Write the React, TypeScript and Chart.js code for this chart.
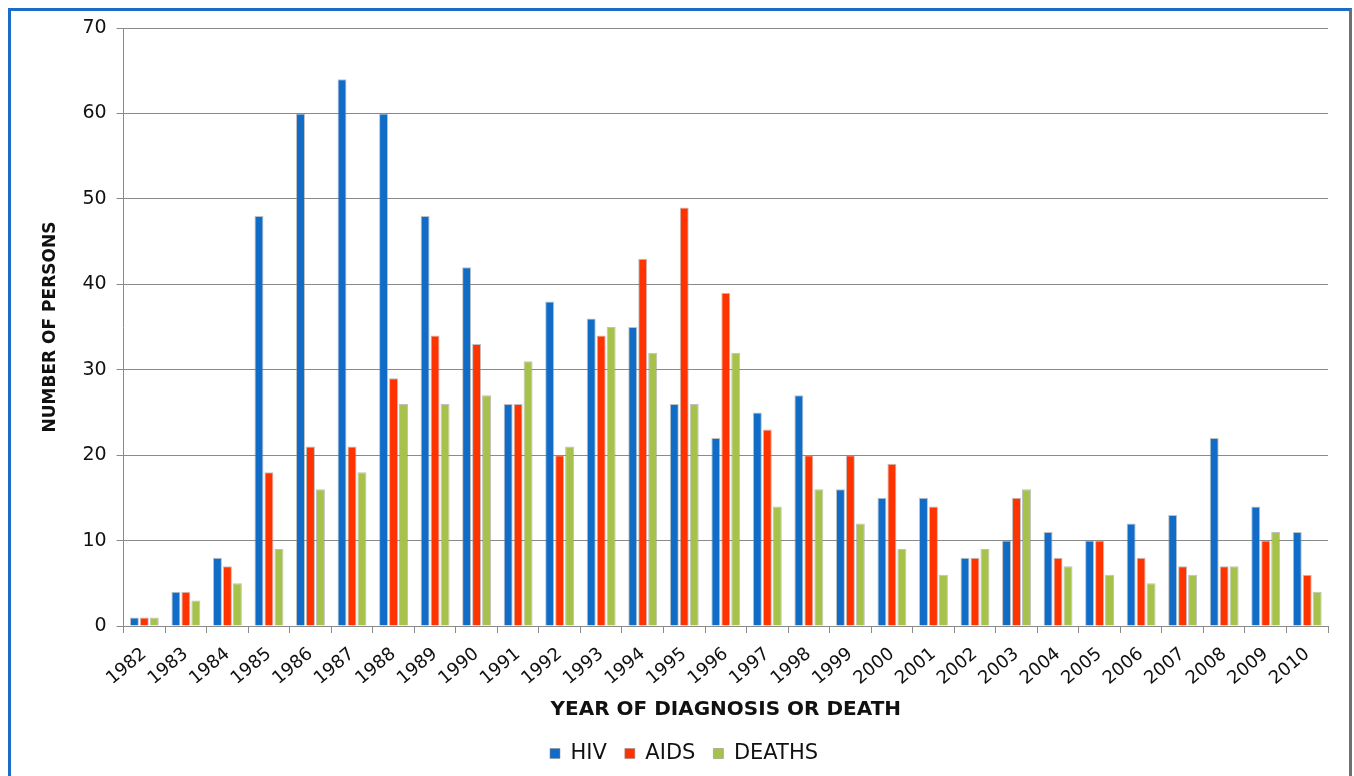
import React, { useEffect, useRef } from "react";
import { Chart, registerables } from "chart.js";

Chart.register(...registerables);

const years = [
  "1982", "1983", "1984", "1985", "1986", "1987", "1988", "1989", "1990", "1991",
  "1992", "1993", "1994", "1995", "1996", "1997", "1998", "1999", "2000", "2001",
  "2002", "2003", "2004", "2005", "2006", "2007", "2008", "2009", "2010",
];
const hiv = [1, 4, 8, 48, 60, 64, 60, 48, 42, 26, 38, 36, 35, 26, 22, 25, 27, 16, 15, 15, 8, 10, 11, 10, 12, 13, 22, 14, 11];
const aids = [1, 4, 7, 18, 21, 21, 29, 34, 33, 26, 20, 34, 43, 49, 39, 23, 20, 20, 19, 14, 8, 15, 8, 10, 8, 7, 7, 10, 6];
const deaths = [1, 3, 5, 9, 16, 18, 26, 26, 27, 31, 21, 35, 32, 26, 32, 14, 16, 12, 9, 6, 9, 16, 7, 6, 5, 6, 7, 11, 4];

const seriesNames = ["HIV", "AIDS", "DEATHS"];
const seriesColors = ["#116cc7", "#ff3300", "#a6c24b"];

const yMin = 0;
const yMax = 70;
const yStep = 10;

const xTitle = "YEAR OF DIAGNOSIS OR DEATH";
const yTitle = "NUMBER OF PERSONS";

const FONT = "'DejaVu Sans', 'Liberation Sans', Arial, sans-serif";

export default function App() {
  const canvasRef = useRef<HTMLCanvasElement | null>(null);

  useEffect(() => {
    if (!canvasRef.current) return;
    const values = [hiv, aids, deaths];
    const chart = new Chart(canvasRef.current, {
      type: "bar",
      data: {
        labels: years,
        datasets: values.map((v, i) => ({
          label: seriesNames[i],
          data: v,
          backgroundColor: seriesColors[i],
          borderColor: "rgba(140,140,140,0.55)",
          borderWidth: 1,
          barPercentage: 0.9,
          categoryPercentage: 0.72,
        })),
      },
      options: {
        animation: false,
        responsive: true,
        maintainAspectRatio: false,
        layout: { padding: { left: 29, right: 21, top: 17, bottom: 2 } },
        plugins: {
          tooltip: { enabled: false },
          legend: {
            position: "bottom",
            labels: {
              boxWidth: 10,
              boxHeight: 10,
              padding: 18,
              color: "#111",
              font: { family: FONT, size: 21 },
            },
          },
        },
        scales: {
          x: {
            grid: {
              display: true,
              drawOnChartArea: false,
              drawTicks: true,
              tickLength: 7,
              color: "#8a8a8a",
              offset: true,
            },
            border: { display: true, color: "#8a8a8a" },
            ticks: {
              minRotation: 40,
              maxRotation: 40,
              autoSkip: false,
              padding: 10.5,
              color: "#111",
              font: { family: FONT, size: 18 },
            },
            title: {
              display: true,
              text: xTitle,
              color: "#111",
              padding: { top: 0, bottom: 5 },
              font: { family: FONT, size: 20, weight: "bold", lineHeight: 1 },
            },
          },
          y: {
            min: yMin,
            max: yMax,
            grid: {
              color: "#8a8a8a",
              tickLength: 7,
              drawTicks: true,
            },
            border: { display: true, color: "#8a8a8a" },
            ticks: {
              stepSize: yStep,
              padding: 10,
              color: "#111",
              font: { family: FONT, size: 19, lineHeight: 0.6 },
            },
            title: {
              display: true,
              text: yTitle,
              color: "#111",
              padding: { top: 0, bottom: 12 },
              font: { family: FONT, size: 17, weight: "bold" },
            },
          },
        },
      },
    });
    return () => chart.destroy();
  }, []);

  return (
    <div
      style={{
        position: "fixed",
        left: 8,
        top: 8,
        width: 1344,
        height: 790,
        boxSizing: "border-box",
        borderTop: "3px solid #1a6cc8",
        borderLeft: "3px solid #1a6cc8",
        borderRight: "3px solid #707070",
        background: "#fff",
      }}
    >
      <div style={{ position: "relative", width: 1338, height: 765 }}>
        <canvas ref={canvasRef} />
      </div>
    </div>
  );
}
